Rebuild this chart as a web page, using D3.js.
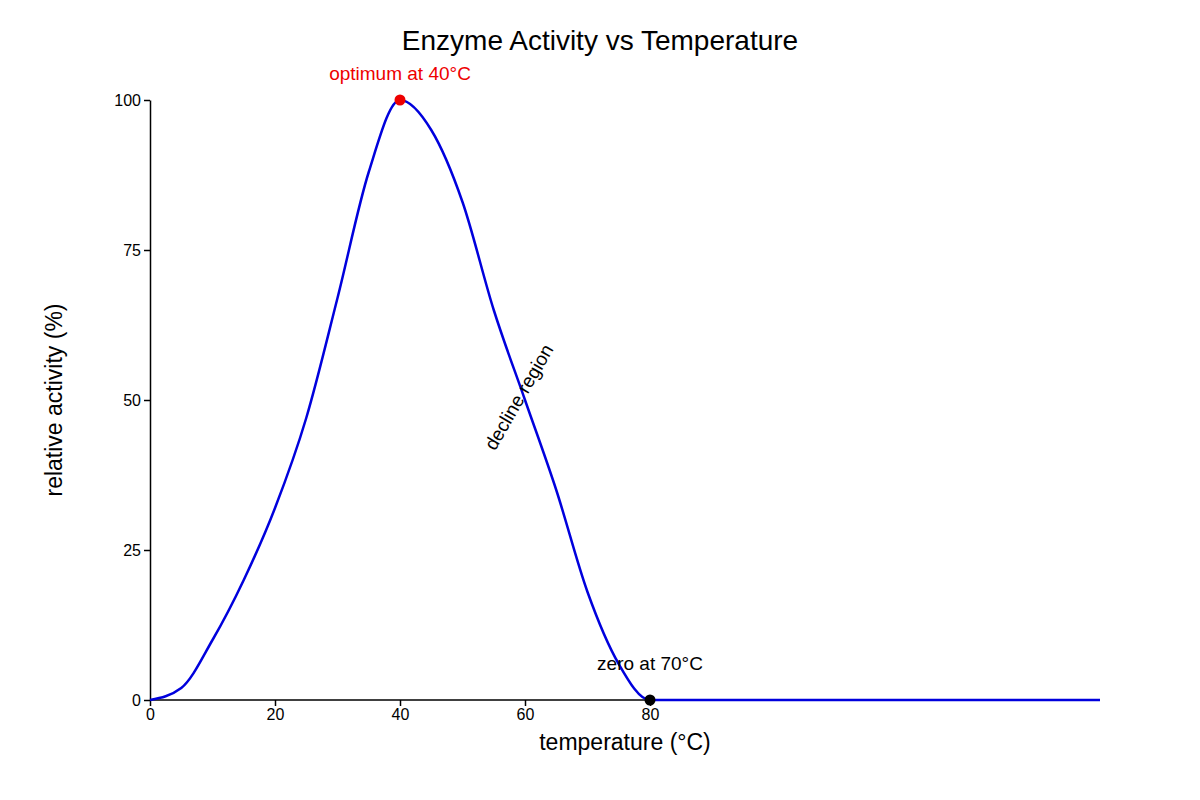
<!DOCTYPE html>
<html>
<head>
<meta charset="utf-8">
<script src="https://cdn.jsdelivr.net/npm/d3@7"></script>
<style>body{margin:0;background:#fff;font-family:"Liberation Sans",Arial,sans-serif;}</style>
</head>
<body>
<div id="chart"></div>
<script>
// temperature (°C) and relative activity (%)
const temps = [0, 5, 10, 15, 20, 25, 30, 35, 40, 45, 50, 55, 60, 65, 70, 75, 80, 152];
const activity = [0, 2, 10, 20, 32, 47, 67, 88, 100, 95, 83, 65, 50, 35, 18, 6, 0, 0];
const xTicks = [0, 20, 40, 60, 80];
const yTicks = [0, 25, 50, 75, 100];

const width = 1200, height = 800;
const svg = d3.select("#chart").append("svg")
  .attr("width", width).attr("height", height);

const x = d3.scaleLinear().domain([0, 152]).range([150, 1100]);
const y = d3.scaleLinear().domain([0, 100]).range([700, 100]);

const data = temps.map((t, i) => ({ t: t, a: activity[i] }));

// axes
svg.append("g")
  .attr("transform", "translate(0," + y(0) + ")")
  .call(d3.axisBottom(x).tickValues(xTicks).tickSize(6).tickSizeOuter(0))
  .call(g => g.select(".domain").attr("d", "M" + x(0) + ",0H" + x(152)))
  .selectAll("text").style("font-size", "16px").style("font-family", "Liberation Sans");

svg.append("g")
  .attr("transform", "translate(" + x(0) + ",0)")
  .call(d3.axisLeft(y).tickValues(yTicks).tickSize(6).tickSizeOuter(0))
  .selectAll("text").style("font-size", "16px").style("font-family", "Liberation Sans");

svg.selectAll(".domain, .tick line").attr("stroke", "#000").attr("stroke-width", 1.5);

// curve
const line = d3.line()
  .x(d => x(d.t))
  .y(d => y(d.a))
  .curve(d3.curveMonotoneX);

svg.append("path")
  .datum(data)
  .attr("d", line)
  .attr("fill", "none")
  .attr("stroke", "#0000dd")
  .attr("stroke-width", 2.5);

// markers
svg.append("circle").attr("cx", x(40)).attr("cy", y(100)).attr("r", 5.5).attr("fill", "#ee0000");
svg.append("circle").attr("cx", x(80)).attr("cy", y(0)).attr("r", 5.5).attr("fill", "#000");

// annotations
svg.append("text").attr("x", x(40)).attr("y", y(100) - 20)
  .attr("text-anchor", "middle").style("font-size", "19px").attr("fill", "#ee0000")
  .text("optimum at 40°C");
svg.append("text").attr("x", x(80)).attr("y", y(0) - 30)
  .attr("text-anchor", "middle").style("font-size", "19px").attr("fill", "#000")
  .text("zero at 70°C");
svg.append("text")
  .attr("transform", "translate(" + x(59) + "," + y(50.5) + ") rotate(-60)")
  .attr("text-anchor", "middle").attr("dy", "0.35em").style("font-size", "19px")
  .text("decline region");

// titles
svg.append("text").attr("x", 600).attr("y", 50).attr("text-anchor", "middle")
  .style("font-size", "28px").text("Enzyme Activity vs Temperature");
svg.append("text").attr("x", 625).attr("y", 750).attr("text-anchor", "middle")
  .style("font-size", "23px").text("temperature (°C)");
svg.append("text").attr("transform", "translate(62,400) rotate(-90)")
  .attr("text-anchor", "middle").style("font-size", "23px").text("relative activity (%)");
</script>
</body>
</html>
